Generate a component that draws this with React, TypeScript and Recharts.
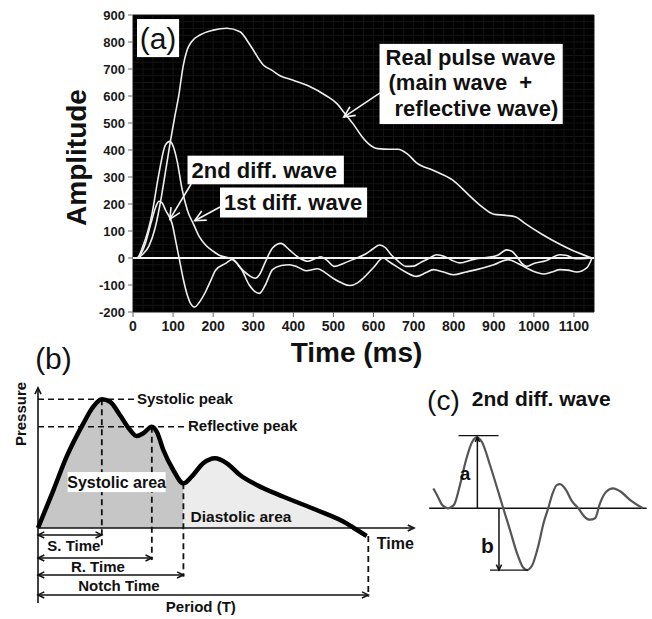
import React from "react";
import {
  LineChart,
  ComposedChart,
  Line,
  Area,
  XAxis,
  YAxis,
  CartesianGrid,
  ReferenceLine,
  ReferenceArea,
  ReferenceDot,
} from "recharts";

const FONT = "'Liberation Sans', Arial, Helvetica, sans-serif";

// ---------- (a) measured waves ----------
const timeTicks = [0, 100, 200, 300, 400, 500, 600, 700, 800, 900, 1000, 1100];
const ampTicks = [-200, -100, 0, 100, 200, 300, 400, 500, 600, 700, 800, 900];

const pulseTime = [0, 10, 25, 40, 55, 70, 80, 93, 105, 114, 125, 135, 146, 167, 200, 234, 267, 292, 325, 347, 367, 392, 437, 482, 510, 526, 550, 571, 590, 610, 640, 661, 685, 706, 751, 796, 840, 870, 900, 930, 955, 975, 1020, 1065, 1109, 1145];
const pulseAmp = [0, 0, 15, 45, 110, 220, 310, 430, 530, 600, 710, 770, 801, 826, 844, 851, 838, 789, 715, 695, 675, 662, 638, 601, 570, 540, 495, 450, 420, 405, 403, 403, 385, 354, 323, 290, 230, 190, 162, 158, 152, 131, 88, 51, 20, 0];

const diff1Time = [0, 10, 25, 47, 64, 81, 92, 100, 110, 122, 135, 152, 165, 181, 200, 214, 248, 270, 290, 315, 330, 348, 370, 390, 410, 432, 461, 480, 499, 520, 541, 560, 574, 600, 624, 640, 657, 680, 707, 730, 749, 775, 799, 830, 857, 900, 936, 960, 982, 1000, 1024, 1045, 1065, 1085, 1107, 1132, 1145];
const diff1Amp = [0, 0, 45, 160, 307, 419, 432, 415, 360, 258, 180, 122, 80, 48, 25, 11, -5, -40, -100, -131, -100, -43, -28, -25, -33, -47, -40, -55, -75, -92, -102, -92, -75, -35, 0, -15, -31, -52, -68, -55, -43, -52, -62, -52, -43, -25, -6, -20, -37, -50, -59, -52, -43, -45, -52, -37, 0];

const diff2Time = [0, 10, 30, 45, 57, 65, 72, 82, 98, 107, 115, 125, 135, 145, 153, 165, 181, 195, 206, 231, 248, 270, 290, 305, 315, 330, 348, 369, 390, 415, 436, 455, 469, 485, 502, 525, 548, 580, 600, 615, 630, 644, 660, 681, 700, 715, 740, 757, 777, 795, 815, 850, 882, 910, 932, 945, 957, 970, 982, 1000, 1030, 1065, 1080, 1106, 1130, 1145];
const diff2Amp = [0, 0, 50, 130, 190, 210, 205, 175, 125, 60, 0, -75, -135, -172, -182, -165, -125, -80, -45, -20, -5, -40, -65, -75, -63, -15, 37, 54, 30, 0, -12, -2, 4, -10, -31, -20, -6, 15, 35, 48, 38, 12, -10, -31, -30, -19, 0, 12, 6, -8, -18, -5, 2, 10, 30, 25, 6, -20, -31, -20, -10, 12, 10, -3, -2, 0];

const gridTimes = Array.from({ length: 47 }, (_, i) => i * 25);
const gridAmps = Array.from({ length: 45 }, (_, i) => -200 + i * 25);

// ---------- (b) pulse wave schematic ----------
const bTime = [0, 4.7, 8.7, 13.8, 16.8, 19.4, 21.9, 24.9, 28, 30, 32, 34.6, 36.1, 38.1, 41.1, 44.2, 46.7, 50.2, 53.8, 57.4, 61.4, 66.5, 74.6, 84.7, 93.8, 96, 99.9];
const bPressure = [0, 29.5, 55.4, 81.3, 94.3, 100, 98.1, 87.8, 76.1, 71.5, 73.6, 78.7, 74.8, 60.6, 45.1, 34.7, 39.9, 50.3, 54.2, 50.3, 41.2, 33.4, 24.3, 14, 3.6, 0, -6.2];
const bSystolic = [0, 29.5, 55.4, 81.3, 94.3, 100, 98.1, 87.8, 76.1, 71.5, 73.6, 78.7, 74.8, 60.6, 45.1, 34.7, null, null, null, null, null, null, null, null, null, null, null];
const bDiastolic = [null, null, null, null, null, null, null, null, null, null, null, null, null, null, null, 34.7, 39.9, 50.3, 54.2, 50.3, 41.2, 33.4, 24.3, 14, 3.6, 0, null];
const bSysPeak = 100;
const bRefPeak = 78.7;
const bSTime = 19.4;
const bRTime = 34.6;
const bNotchTime = 44.2;
const bNotchP = 34.7;
const bPeriod = 100.4;

// ---------- (c) 2nd diff schematic ----------
const cTime = [2, 4.2, 6.1, 8.9, 11.7, 14.5, 17.3, 20.1, 22.3, 24.8, 28.5, 31.8, 34.7, 37.9, 41.1, 43.9, 45.8, 48.1, 50.9, 53.7, 55.7, 57.9, 59.8, 61.2, 64, 66.8, 69.8, 72.4, 75.2, 77.6, 79.9, 82.7, 86, 89.3, 93.9, 100];
const cWave = [28, 16, 5, 0, 5, 33, 68, 93, 100, 93, 61, 29, 0, -31, -63, -83, -87, -81, -55, -19, 0, 22, 33, 34, 26, 10, 0, -11, -16, -14, 7, 23, 28, 24, 12, 0];
const cA = 100;
const cB = -87;

const pulseData = pulseTime.map((t, i) => ({ t, v: pulseAmp[i] }));
const diff1Data = diff1Time.map((t, i) => ({ t, v: diff1Amp[i] }));
const diff2Data = diff2Time.map((t, i) => ({ t, v: diff2Amp[i] }));
const bData = bTime.map((t, i) => ({ t, p: bPressure[i], s: bSystolic[i], d: bDiastolic[i] }));
const cData = cTime.map((t, i) => ({ t, v: cWave[i] }));

function arrowLine(color: string, width: number, heads: "end" | "start" | "both" | "none", size = 8, dash?: string) {
  return (p: any) => {
    const { x1, y1, x2, y2 } = p;
    const ang = Math.atan2(y2 - y1, x2 - x1);
    const head = (x: number, y: number, a: number, k: string) => {
      const s = 0.45;
      const ax = x - size * Math.cos(a - s);
      const ay = y - size * Math.sin(a - s);
      const bx = x - size * Math.cos(a + s);
      const by = y - size * Math.sin(a + s);
      return (
        <polyline key={k} points={`${ax},${ay} ${x},${y} ${bx},${by}`} fill="none" stroke={color} strokeWidth={width} />
      );
    };
    return (
      <g>
        <line x1={x1} y1={y1} x2={x2} y2={y2} stroke={color} strokeWidth={width} strokeDasharray={dash} />
        {(heads === "end" || heads === "both") && head(x2, y2, ang, "e")}
        {(heads === "start" || heads === "both") && head(x1, y1, ang + Math.PI, "s")}
      </g>
    );
  };
}

type TextOpts = { size: number; weight?: number; anchor?: string; rotate?: number; color?: string; box?: [number, number] };

function textAt(label: string, o: TextOpts) {
  return (p: any) => {
    const { cx, cy } = p;
    return (
      <g>
        {o.box && <rect x={cx - o.box[0] / 2} y={cy - o.box[1] / 2} width={o.box[0]} height={o.box[1]} fill="#fff" />}
        <text
          x={cx}
          y={cy}
          fontFamily={FONT}
          fontSize={o.size}
          fontWeight={o.weight ?? 700}
          fill={o.color ?? "#111"}
          textAnchor={o.anchor ?? "start"}
          dominantBaseline="central"
          style={{ whiteSpace: "pre" }}
          transform={o.rotate ? `rotate(${o.rotate} ${cx} ${cy})` : undefined}
        >
          {label}
        </text>
      </g>
    );
  };
}

// white box with lines of text, offsets in px from the box corner
function boxShape(lines: { t: string; dx: number; dy: number }[], size: number, weight = 700, anchor = "start") {
  return (p: any) => (
    <g>
      <rect x={p.x} y={p.y} width={p.width} height={p.height} fill="#fff" />
      {lines.map((l, i) => (
        <text
          key={i}
          x={p.x + l.dx}
          y={p.y + l.dy}
          fontFamily={FONT}
          fontSize={size}
          fontWeight={weight}
          fill="#111"
          textAnchor={anchor}
          dominantBaseline="central"
          style={{ whiteSpace: "pre" }}
        >
          {l.t}
        </text>
      ))}
    </g>
  );
}

const XTitle = (p: any) => {
  const vb = p.viewBox ?? { x: 133, y: 312, width: 461, height: 60 };
  return (
    <text x={vb.x + vb.width / 2 - 7} y={vb.y + 50} textAnchor="middle" fontFamily={FONT} fontSize={28} fontWeight={700} fill="#111">
      Time (ms)
    </text>
  );
};

const YTitle = (p: any) => {
  const vb = p.viewBox ?? { x: 0, y: 15, width: 133, height: 297 };
  const x = vb.x + 86;
  const y = vb.y + vb.height / 2 - 6;
  return (
    <text x={x} y={y} textAnchor="middle" transform={`rotate(-90 ${x} ${y})`} fontFamily={FONT} fontSize={28} fontWeight={700} fill="#111">
      Amplitude
    </text>
  );
};

const tickStyle = { fontWeight: 700, fill: "#1a1a1a", fontFamily: FONT };

function PanelA() {
  return (
    <LineChart width={652} height={372} margin={{ top: 15, right: 58, bottom: 0, left: 0 }}>
      <CartesianGrid fill="#000" fillOpacity={1} stroke="#141414" horizontalValues={gridAmps} verticalValues={gridTimes} />
      <XAxis
        dataKey="t"
        type="number"
        domain={[0, 1150]}
        ticks={timeTicks}
        interval={0}
        allowDataOverflow
        height={60}
        tick={{ ...tickStyle, fontSize: 14 }}
        tickSize={5}
        tickMargin={4}
        tickLine={{ stroke: "#666" }}
        axisLine={false}
        label={<XTitle />}
      />
      <YAxis
        type="number"
        domain={[-200, 900]}
        ticks={ampTicks}
        interval={0}
        allowDataOverflow
        width={133}
        tick={{ ...tickStyle, fontSize: 13 }}
        tickSize={5}
        tickMargin={3}
        tickLine={{ stroke: "#666" }}
        axisLine={false}
        label={<YTitle />}
      />
      <ReferenceLine y={0} stroke="#f4f4f4" strokeWidth={2} />
      <Line data={pulseData} dataKey="v" type="monotone" stroke="#eeeeee" strokeWidth={1.6} dot={false} isAnimationActive={false} />
      <Line data={diff1Data} dataKey="v" type="monotone" stroke="#eeeeee" strokeWidth={1.6} dot={false} isAnimationActive={false} />
      <Line data={diff2Data} dataKey="v" type="monotone" stroke="#eeeeee" strokeWidth={1.6} dot={false} isAnimationActive={false} />

      <ReferenceArea x1={10} x2={115} y1={744} y2={885} ifOverflow="visible" shape={boxShape([{ t: "(a)", dx: 21, dy: 19 }], 30, 400, "middle")} />
      <ReferenceArea
        x1={615}
        x2={1072}
        y1={496}
        y2={793}
        ifOverflow="visible"
        shape={boxShape(
          [
            { t: "Real pulse wave", dx: 6, dy: 14 },
            { t: "(main wave  +", dx: 9, dy: 39 },
            { t: "reflective wave)", dx: 15, dy: 65 },
          ],
          22,
        )}
      />
      <ReferenceArea x1={136} x2={526} y1={273} y2={379} ifOverflow="visible" shape={boxShape([{ t: "2nd diff. wave", dx: 4, dy: 14.5 }], 22)} />
      <ReferenceArea x1={217} x2={584} y1={150} y2={261} ifOverflow="visible" shape={boxShape([{ t: "1st diff. wave", dx: 4, dy: 15 }], 22)} />

      <ReferenceLine segment={[{ x: 620, y: 615 }, { x: 526, y: 522 }]} ifOverflow="visible" shape={arrowLine("#f4f4f4", 1.6, "end", 12)} />
      <ReferenceLine segment={[{ x: 145, y: 274 }, { x: 92, y: 144 }]} ifOverflow="visible" shape={arrowLine("#f4f4f4", 1.6, "end", 12)} />
      <ReferenceLine segment={[{ x: 217, y: 189 }, { x: 154, y: 138 }]} ifOverflow="visible" shape={arrowLine("#f4f4f4", 1.6, "end", 12)} />
    </LineChart>
  );
}

function PanelB() {
  const dash = "6 4";
  return (
    <ComposedChart width={420} height={279} data={bData} margin={{ top: 0, right: 0, bottom: 0, left: 0 }}>
      <XAxis dataKey="t" type="number" domain={[-11.55, 116.11]} allowDataOverflow hide />
      <YAxis type="number" domain={[-70.7, 146.1]} allowDataOverflow hide />
      <Area dataKey="s" type="monotone" baseValue={0} fill="#c6c6c6" fillOpacity={1} stroke="none" isAnimationActive={false} />
      <Area dataKey="d" type="monotone" baseValue={0} fill="#ececec" fillOpacity={1} stroke="none" isAnimationActive={false} />

      {/* axes */}
      <ReferenceLine segment={[{ x: 0, y: -58.3 }, { x: 0, y: 109 }]} ifOverflow="visible" shape={arrowLine("#111", 1.6, "end", 7)} />
      <ReferenceLine segment={[{ x: 0, y: 0 }, { x: 114.3, y: 0 }]} ifOverflow="visible" shape={arrowLine("#111", 1.6, "end", 7)} />

      {/* dashed guides */}
      <ReferenceLine segment={[{ x: 0, y: bSysPeak }, { x: 29.3, y: bSysPeak }]} ifOverflow="visible" shape={arrowLine("#111", 1.5, "none", 0, dash)} />
      <ReferenceLine segment={[{ x: 0, y: bRefPeak }, { x: 45.2, y: bRefPeak }]} ifOverflow="visible" shape={arrowLine("#111", 1.5, "none", 0, dash)} />
      <ReferenceLine segment={[{ x: bSTime, y: bSysPeak }, { x: bSTime, y: -14.5 }]} ifOverflow="visible" shape={arrowLine("#111", 1.8, "none", 0, dash)} />
      <ReferenceLine segment={[{ x: bRTime, y: bRefPeak }, { x: bRTime, y: -24.9 }]} ifOverflow="visible" shape={arrowLine("#111", 1.8, "none", 0, dash)} />
      <ReferenceLine segment={[{ x: bNotchTime, y: bNotchP }, { x: bNotchTime, y: -37.8 }]} ifOverflow="visible" shape={arrowLine("#111", 1.8, "none", 0, dash)} />
      <ReferenceLine segment={[{ x: bPeriod, y: -6.2 }, { x: bPeriod, y: -53.4 }]} ifOverflow="visible" shape={arrowLine("#111", 1.8, "none", 0, dash)} />

      {/* time spans */}
      <ReferenceLine segment={[{ x: 0, y: -5.4 }, { x: bSTime, y: -5.4 }]} ifOverflow="visible" shape={arrowLine("#111", 1.5, "both", 7)} />
      <ReferenceLine segment={[{ x: 0, y: -23.3 }, { x: bRTime, y: -23.3 }]} ifOverflow="visible" shape={arrowLine("#111", 1.5, "both", 7)} />
      <ReferenceLine segment={[{ x: 0, y: -36.5 }, { x: bNotchTime, y: -36.5 }]} ifOverflow="visible" shape={arrowLine("#111", 1.5, "both", 7)} />
      <ReferenceLine segment={[{ x: 0, y: -52 }, { x: bPeriod, y: -52 }]} ifOverflow="visible" shape={arrowLine("#111", 1.5, "both", 7)} />

      <Line dataKey="p" type="monotone" stroke="#000" strokeWidth={4.5} strokeLinejoin="round" dot={false} isAnimationActive={false} />

      <ReferenceDot x={4.7} y={132.1} r={0} ifOverflow="visible" shape={textAt("(b)", { size: 30, weight: 400, anchor: "middle" })} />
      <ReferenceDot x={-5.2} y={88.6} r={0} ifOverflow="visible" shape={textAt("Pressure", { size: 15, anchor: "middle", rotate: -90 })} />
      <ReferenceDot x={30.1} y={101} r={0} ifOverflow="visible" shape={textAt("Systolic peak", { size: 15 })} />
      <ReferenceDot x={45.6} y={79.3} r={0} ifOverflow="visible" shape={textAt("Reflective peak", { size: 15 })} />
      <ReferenceDot x={23.9} y={35.7} r={0} ifOverflow="visible" shape={textAt("Systolic area", { size: 16, anchor: "middle", box: [98, 20] })} />
      <ReferenceDot x={61.7} y={8.8} r={0} ifOverflow="visible" shape={textAt("Diastolic area", { size: 15.5, anchor: "middle" })} />
      <ReferenceDot x={103} y={-11.9} r={0} ifOverflow="visible" shape={textAt("Time", { size: 16 })} />
      <ReferenceDot x={10.9} y={-13.2} r={0} ifOverflow="visible" shape={textAt("S. Time", { size: 15, anchor: "middle" })} />
      <ReferenceDot x={18.2} y={-30} r={0} ifOverflow="visible" shape={textAt("R. Time", { size: 15, anchor: "middle" })} />
      <ReferenceDot x={24.6} y={-44.3} r={0} ifOverflow="visible" shape={textAt("Notch Time", { size: 15, anchor: "middle" })} />
      <ReferenceDot x={49.5} y={-61.2} r={0} ifOverflow="visible" shape={textAt("Period (T)", { size: 15, anchor: "middle" })} />
    </ComposedChart>
  );
}

function PanelC() {
  return (
    <LineChart width={252} height={239} data={cData} margin={{ top: 0, right: 0, bottom: 0, left: 0 }}>
      <XAxis dataKey="t" type="number" domain={[-13.55, 104.21]} allowDataOverflow hide />
      <YAxis type="number" domain={[-155.9, 180.7]} allowDataOverflow hide />
      <ReferenceLine segment={[{ x: 0.1, y: 0 }, { x: 101.7, y: 0 }]} ifOverflow="visible" shape={arrowLine("#111", 1.6, "none")} />
      <Line dataKey="v" type="monotone" stroke="#555" strokeWidth={2.2} dot={false} isAnimationActive={false} />
      <ReferenceLine segment={[{ x: 13.8, y: 102.3 }, { x: 32.5, y: 102.3 }]} ifOverflow="visible" shape={arrowLine("#111", 1.3, "none")} />
      <ReferenceLine segment={[{ x: 22.6, y: 0 }, { x: 22.6, y: cA }]} ifOverflow="visible" shape={arrowLine("#111", 1.5, "end", 5)} />
      <ReferenceLine segment={[{ x: 32.7, y: 0 }, { x: 32.7, y: cB }]} ifOverflow="visible" shape={arrowLine("#111", 1.5, "end", 6)} />
      <ReferenceLine segment={[{ x: 28.5, y: cB }, { x: 46.3, y: cB }]} ifOverflow="visible" shape={arrowLine("#111", 1.3, "none")} />
      <ReferenceDot x={-0.9} y={152.5} r={0} ifOverflow="visible" shape={textAt("(c)", { size: 28, weight: 400 })} />
      <ReferenceDot x={20} y={155} r={0} ifOverflow="visible" shape={textAt("2nd diff. wave", { size: 21 })} />
      <ReferenceDot x={16.8} y={49.7} r={0} ifOverflow="visible" shape={textAt("a", { size: 19, anchor: "middle" })} />
      <ReferenceDot x={27.3} y={-51.7} r={0} ifOverflow="visible" shape={textAt("b", { size: 21, anchor: "middle" })} />
    </LineChart>
  );
}

export default function App() {
  return (
    <div style={{ position: "absolute", left: 0, top: 0, width: 652, height: 619, background: "#fff", overflow: "hidden" }}>
      <div style={{ position: "absolute", left: 0, top: 0 }}>
        <PanelA />
      </div>
      <div style={{ position: "absolute", left: 0, top: 340 }}>
        <PanelB />
      </div>
      <div style={{ position: "absolute", left: 400, top: 380 }}>
        <PanelC />
      </div>
    </div>
  );
}
